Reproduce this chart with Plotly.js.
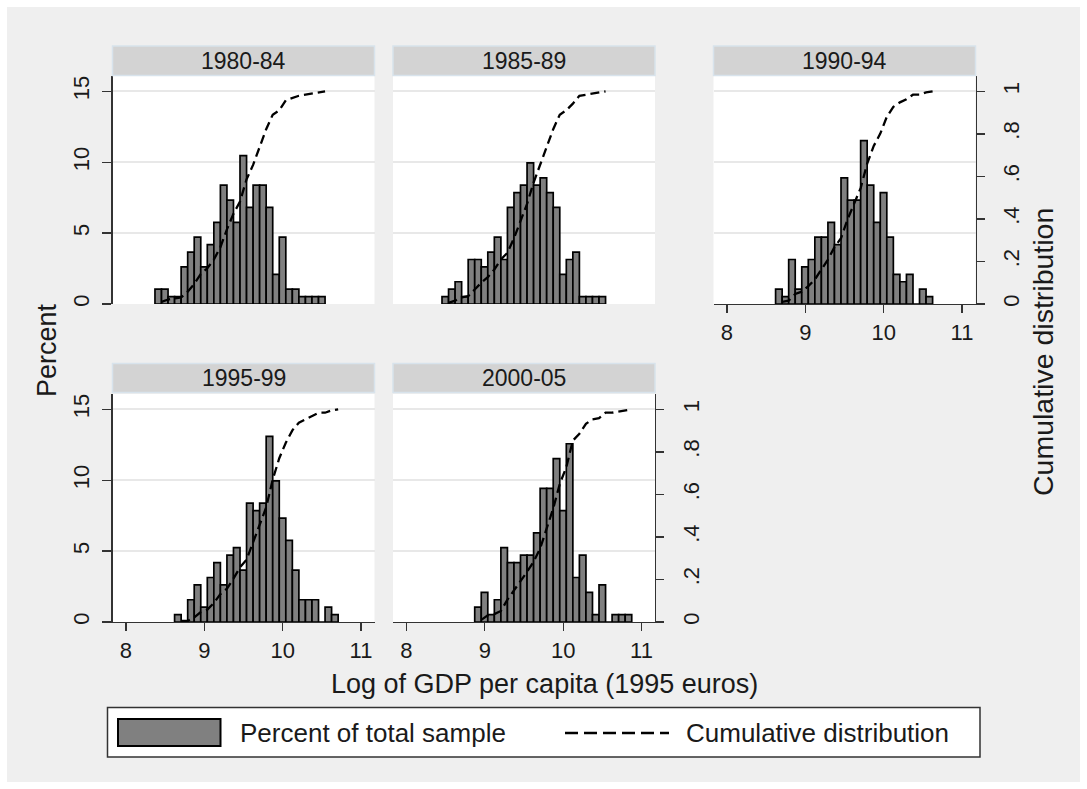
<!DOCTYPE html>
<html><head><meta charset="utf-8">
<script src="https://cdn.plot.ly/plotly-3.0.1.min.js"></script>
<style>html,body{margin:0;padding:0;background:#fff;}#chart{width:1087px;height:789px;}</style>
</head><body><div id="chart"></div>
<script>
// ---------------- data ----------------
const panelTitles = ['1980-84', '1985-89', '1990-94', '1995-99', '2000-05'];
const binLeft = 8.37;      // left edge of first histogram bin (log GDP per capita)
const binWidth = 0.0835;   // histogram bin width
const firstBin = [0, 1, 3, 3, 6]; // index of first plotted bin per panel

// Percent of total sample in each bin
const pct8084 = [1.05,1.05,0.52,0.52,2.62,3.66,4.71,2.62,4.19,5.76,8.38,7.33,5.76,10.47,6.81,8.38,8.38,6.81,2.09,4.71,1.05,1.05,0.52,0.52,0.52,0.52];
const pct8589 = [0.52,1.05,1.57,0.52,3.14,3.14,2.62,3.66,4.71,3.14,6.81,7.85,8.38,9.95,8.38,8.90,7.85,6.81,2.09,3.14,3.66,0.52,0.52,0.52,0.52];
const pct9094 = [1.05,0.52,3.14,1.05,2.62,3.14,4.71,4.71,5.76,4.19,8.90,7.33,7.33,11.52,8.38,5.76,7.85,4.71,2.09,1.57,2.09,0,1.05,0.52];
const pct9599 = [0.52,0,1.57,2.62,1.05,3.14,4.19,2.62,4.71,5.24,3.66,8.38,7.85,8.38,13.09,9.95,7.33,5.76,3.66,1.57,1.57,1.57,0,1.05,0.52];
const pct0005 = [1.05,2.09,0.52,1.57,5.24,4.19,4.19,4.71,4.71,6.28,9.42,9.42,11.52,7.85,12.57,3.14,4.71,2.09,0.52,2.62,0,0.52,0.52,0.52];

// Cumulative distribution at the upper edge of each bin
const cum8084 = [0.010,0.021,0.026,0.031,0.058,0.094,0.141,0.168,0.209,0.267,0.351,0.424,0.482,0.586,0.654,0.738,0.822,0.890,0.911,0.958,0.969,0.979,0.984,0.990,0.995,1.000];
const cum8589 = [0.005,0.016,0.031,0.037,0.068,0.100,0.126,0.162,0.209,0.241,0.309,0.387,0.471,0.571,0.654,0.743,0.822,0.890,0.911,0.942,0.979,0.984,0.990,0.995,1.000];
const cum9094 = [0.010,0.016,0.047,0.058,0.084,0.115,0.162,0.209,0.267,0.309,0.398,0.471,0.545,0.660,0.743,0.801,0.880,0.927,0.948,0.963,0.984,0.984,0.995,1.000];
const cum9599 = [0.005,0.005,0.021,0.047,0.058,0.089,0.131,0.157,0.204,0.257,0.293,0.377,0.455,0.539,0.670,0.770,0.843,0.901,0.937,0.953,0.969,0.984,0.984,0.995,1.000];
const cum0005 = [0.010,0.031,0.037,0.052,0.105,0.147,0.188,0.236,0.283,0.346,0.440,0.534,0.649,0.728,0.853,0.885,0.932,0.953,0.958,0.984,0.984,0.990,0.995,1.000];

const pctSeries = [pct8084, pct8589, pct9094, pct9599, pct0005];
const cumSeries = [cum8084, cum8589, cum9094, cum9599, cum0005];

const xTicks = [8, 9, 10, 11];
const pctTicks = [0, 5, 10, 15];
const cumTicks = [0, 0.2, 0.4, 0.6, 0.8, 1];
const cumTickText = ['0', '.2', '.4', '.6', '.8', '1'];

const xTitle = 'Log of GDP per capita (1995 euros)';
const yTitleLeft = 'Percent';
const yTitleRight = 'Cumulative distribution';
const legendBar = 'Percent of total sample';
const legendLine = 'Cumulative distribution';

// ---------------- layout helpers ----------------
const W = 1087, H = 789;
const fx = p => p / W;
const fy = p => 1 - p / H;
const FONT = 'Liberation Sans, Arial, Helvetica, sans-serif';
const INK = '#1a1a1a';
const AXC = '#333333';

const cols = [[112.5, 374.5], [393, 655], [713.5, 975.5]];
const rows = [[76, 304], [394, 622]];
const strips = [[46, 75.5], [363.5, 392.5]];
const panelPos = [[0,0],[1,0],[2,0],[0,1],[1,1]]; // [col,row]
const showLeft = [true,false,false,true,false];
const showRight = [false,false,true,false,true];
const showBottom = [false,false,true,true,true];

const xRange = [7.828, 11.172];
const pctRange = [0, 16.08];
const cumRange = [0, 16.08/15];

const traces = [];
const layout = {
  width: W, height: H,
  margin: {l:0, r:0, t:0, b:0},
  paper_bgcolor: '#efefef',
  plot_bgcolor: '#ffffff',
  showlegend: false,
  font: {family: FONT, color: INK},
  shapes: [], annotations: []
};

for (let i = 0; i < 5; i++) {
  const n = i + 1;
  const xk = n === 1 ? 'xaxis' : 'xaxis' + n;
  const yk = n === 1 ? 'yaxis' : 'yaxis' + n;
  const ck = 'yaxis' + (n + 5);
  const [c, r] = panelPos[i];
  const pct = pctSeries[i], cum = cumSeries[i];
  const centers = pct.map((_, k) => binLeft + (firstBin[i] + k + 0.5) * binWidth);
  const uppers = cum.map((_, k) => binLeft + (firstBin[i] + k + 1) * binWidth);

  traces.push({
    type: 'bar', x: centers, y: pct, width: binWidth,
    xaxis: 'x' + n, yaxis: 'y' + n,
    marker: {color: '#808080', line: {color: '#000000', width: 1.7}},
    hoverinfo: 'skip'
  });
  traces.push({
    type: 'scatter', mode: 'lines', x: uppers, y: cum,
    xaxis: 'x' + n, yaxis: 'y' + (n + 5),
    line: {color: '#000000', width: 2.3, dash: '9px,5px'},
    hoverinfo: 'skip'
  });

  layout[xk] = {
    domain: [fx(cols[c][0]), fx(cols[c][1])],
    anchor: 'y' + n, range: xRange, fixedrange: true,
    tickvals: xTicks, showgrid: false, zeroline: false,
    showline: showBottom[i], linecolor: AXC, linewidth: 1.3,
    ticks: showBottom[i] ? 'outside' : '', ticklen: 8, tickwidth: 1.3, tickcolor: AXC,
    showticklabels: showBottom[i], tickfont: {size: 22, color: INK, family: FONT}
  };
  layout[yk] = {
    domain: [fy(rows[r][1]), fy(rows[r][0])],
    anchor: 'x' + n, range: pctRange, fixedrange: true,
    tickvals: pctTicks, showgrid: true, gridcolor: '#e8e8e8', gridwidth: 2,
    zeroline: false,
    showline: showLeft[i], linecolor: AXC, linewidth: 1.3,
    ticks: showLeft[i] ? 'outside' : '', ticklen: 9, tickwidth: 1.3, tickcolor: AXC,
    showticklabels: showLeft[i], tickangle: -90, ticklabelstandoff: 4,
    tickfont: {size: 22, color: INK, family: FONT}
  };
  layout[ck] = {
    overlaying: 'y' + n, anchor: 'x' + n, side: 'right',
    range: cumRange, fixedrange: true,
    tickvals: cumTicks, ticktext: cumTickText,
    showgrid: false, zeroline: false,
    showline: showRight[i], linecolor: AXC, linewidth: 1.3,
    ticks: showRight[i] ? 'outside' : '', ticklen: 8, tickwidth: 1.3, tickcolor: AXC,
    showticklabels: showRight[i], tickangle: -90, ticklabelstandoff: 8,
    tickfont: {size: 22, color: INK, family: FONT}
  };

  // strip header
  layout.shapes.push({
    type: 'rect', xref: 'paper', yref: 'paper', layer: 'above',
    x0: fx(cols[c][0]), x1: fx(cols[c][1]), y0: fy(strips[r][1]), y1: fy(strips[r][0]),
    fillcolor: '#d3d3d3', line: {color: '#d8e3ec', width: 1.5}
  });
  layout.annotations.push({
    xref: 'paper', yref: 'paper', x: fx((cols[c][0] + cols[c][1]) / 2), y: fy((strips[r][0] + strips[r][1]) / 2),
    text: panelTitles[i], showarrow: false, xanchor: 'center', yanchor: 'middle',
    font: {size: 23, color: INK, family: FONT}
  });
}

// white outer border
[[0,0,W,7],[0,H-7,W,H],[0,0,7,H],[W-7,0,W,H]].forEach(b => layout.shapes.push({
  type: 'rect', xref: 'paper', yref: 'paper', layer: 'above',
  x0: fx(b[0]), x1: fx(b[2]), y0: fy(b[3]), y1: fy(b[1]),
  fillcolor: '#ffffff', line: {width: 0}
}));

// axis titles
layout.annotations.push({xref:'paper', yref:'paper', x: fx(47), y: fy(350), text: yTitleLeft, textangle: -90,
  showarrow:false, xanchor:'center', yanchor:'middle', font:{size:27, color:INK, family:FONT}});
layout.annotations.push({xref:'paper', yref:'paper', x: fx(1043), y: fy(352), text: yTitleRight, textangle: -90,
  showarrow:false, xanchor:'center', yanchor:'middle', font:{size:28.5, color:INK, family:FONT}});
layout.annotations.push({xref:'paper', yref:'paper', x: fx(544), y: fy(684), text: xTitle,
  showarrow:false, xanchor:'center', yanchor:'middle', font:{size:27, color:INK, family:FONT}});

// legend
layout.shapes.push({type:'rect', xref:'paper', yref:'paper', layer:'above',
  x0: fx(107.5), x1: fx(980), y0: fy(757), y1: fy(707.5), fillcolor:'#ffffff', line:{color:'#333333', width:1.5}});
layout.shapes.push({type:'rect', xref:'paper', yref:'paper', layer:'above',
  x0: fx(118), x1: fx(220.5), y0: fy(746), y1: fy(719), fillcolor:'#808080', line:{color:'#000000', width:2}});
layout.shapes.push({type:'line', xref:'paper', yref:'paper', layer:'above',
  x0: fx(565), x1: fx(669), y0: fy(733), y1: fy(733), line:{color:'#000000', width:2.3, dash:'13px,6px'}});
layout.annotations.push({xref:'paper', yref:'paper', x: fx(238), y: fy(733), text: legendBar,
  showarrow:false, xanchor:'left', yanchor:'middle', font:{size:26, color:INK, family:FONT}});
layout.annotations.push({xref:'paper', yref:'paper', x: fx(684), y: fy(733), text: legendLine,
  showarrow:false, xanchor:'left', yanchor:'middle', font:{size:26, color:INK, family:FONT}});

Plotly.newPlot('chart', traces, layout, {staticPlot: true, displayModeBar: false});
</script>
</body></html>
